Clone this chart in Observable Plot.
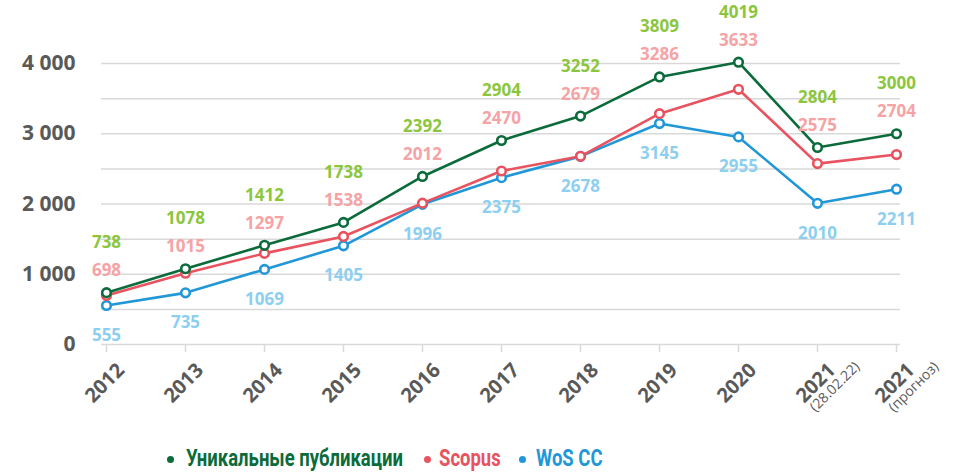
<!DOCTYPE html>
<html>
<head>
<meta charset="utf-8">
<script src="https://cdn.jsdelivr.net/npm/d3@7"></script>
<script src="https://cdn.jsdelivr.net/npm/@observablehq/plot@0.6"></script>
<style>
  html, body { margin: 0; padding: 0; background: #fff; }
  #chart { width: 961px; }
  .legend { position: relative; height: 44px; width: 961px; font-family: "Roboto", sans-serif; font-weight: bold; font-size: 24px; }
  .legend .dot { position: absolute; width: 7px; height: 7px; border-radius: 50%; top: 26px; }
  .legend .txt { position: absolute; top: 14px; line-height: 28px; white-space: nowrap; transform: scaleX(0.77); transform-origin: left center; }
</style>
</head>
<body>
<div id="chart"></div>
<script>
// categories
const categories = ["2012","2013","2014","2015","2016","2017","2018","2019","2020","2021 (28.02.22)","2021 (прогноз)"];
const tickMain = ["2012","2013","2014","2015","2016","2017","2018","2019","2020","2021","2021"];
const tickSub = ["","","","","","","","","","(28.02.22)","(прогноз)"];
// series values
const uniqueVals = [738, 1078, 1412, 1738, 2392, 2904, 3252, 3809, 4019, 2804, 3000];
const scopusVals = [698, 1015, 1297, 1538, 2012, 2470, 2679, 3286, 3633, 2575, 2704];
const wosVals = [555, 735, 1069, 1405, 1996, 2375, 2678, 3145, 2955, 2010, 2211];
const seriesNames = ["Уникальные публикации", "Scopus", "WoS CC"];
const lineColors = ["#0b6b3a", "#e8535f", "#2197d8"];
const labelColors = ["#8cc63f", "#f6a3a6", "#8ecff0"];
const yTicks = [0, 1000, 2000, 3000, 4000];

const rows = categories.map((c, i) => ({cat: c, u: uniqueVals[i], s: scopusVals[i], w: wosVals[i], main: tickMain[i], sub: tickSub[i]}));
const longRows = [];
[uniqueVals, scopusVals, wosVals].forEach((vals, k) => {
  vals.forEach((v, i) => longRows.push({cat: categories[i], series: seriesNames[k], value: v}));
});

const fmt = d3.formatLocale({thousands: "\u00a0", grouping: [3], decimal: ","}).format(",");
const grid = d3.range(500, 4001, 500);

const seriesMarks = [];
[2, 1, 0].forEach(k => {
  const data = longRows.filter(d => d.series === seriesNames[k]);
  seriesMarks.push(Plot.line(data, {x: "cat", y: "value", stroke: lineColors[k], strokeWidth: 2.6}));
  seriesMarks.push(Plot.dot(data, {x: "cat", y: "value", r: 4.3, fill: "white", stroke: lineColors[k], strokeWidth: 2.6}));
});

const plot = Plot.plot({
  width: 961,
  height: 430,
  marginLeft: 101,
  marginRight: 61,
  marginTop: 63,
  marginBottom: 86,
  style: {fontFamily: "'Open Sans', sans-serif", background: "white"},
  x: {type: "point", domain: categories, padding: 0},
  y: {domain: [0, 4000]},
  marks: [
    Plot.ruleY(grid, {stroke: "#d9d9d9", strokeWidth: 1.5}),
    Plot.ruleY([0], {stroke: "#d9d9d9", strokeWidth: 1.5}),
    Plot.axisX({tickSize: 8, tickFormat: () => "", stroke: "#d9d9d9", strokeWidth: 1.5, label: null}),
    Plot.axisY({ticks: yTicks, tickSize: 0, tickPadding: 26, tickFormat: fmt, fontSize: 21, fontWeight: "bold", fill: "#595959", label: null}),
    Plot.text(rows, {x: "cat", text: "main", frameAnchor: "bottom", rotate: -45, textAnchor: "end", dx: 19, dy: 27, fontSize: 20, fontWeight: "bold", fill: "#595959"}),
    Plot.text(rows, {x: "cat", text: "sub", frameAnchor: "bottom", rotate: -45, textAnchor: "end", dx: 43, dy: 23, fontSize: 14, fill: "#595959"}),
    ...seriesMarks,
    Plot.text(rows, {x: "cat", y: "u", text: d => String(d.u), dy: -50, fill: labelColors[0], fontSize: 17, fontWeight: "bold"}),
    Plot.text(rows, {x: "cat", y: "u", text: d => String(d.s), dy: -22, fill: labelColors[1], fontSize: 17, fontWeight: "bold"}),
    Plot.text(rows, {x: "cat", y: "w", text: d => String(d.w), dy: 30, fill: labelColors[2], fontSize: 17, fontWeight: "bold"})
  ]
});
document.getElementById("chart").appendChild(plot);

// legend (below the SVG)
const legendPos = [{dot: 167, txt: 186}, {dot: 424, txt: 439}, {dot: 519, txt: 536}];
const legend = document.createElement("div");
legend.className = "legend";
seriesNames.forEach((n, k) => {
  const dot = document.createElement("span");
  dot.className = "dot";
  dot.style.background = lineColors[k];
  dot.style.left = legendPos[k].dot + "px";
  const txt = document.createElement("span");
  txt.className = "txt";
  txt.textContent = n;
  txt.style.color = lineColors[k];
  txt.style.left = legendPos[k].txt + "px";
  legend.appendChild(dot);
  legend.appendChild(txt);
});
document.getElementById("chart").appendChild(legend);
</script>
</body>
</html>
